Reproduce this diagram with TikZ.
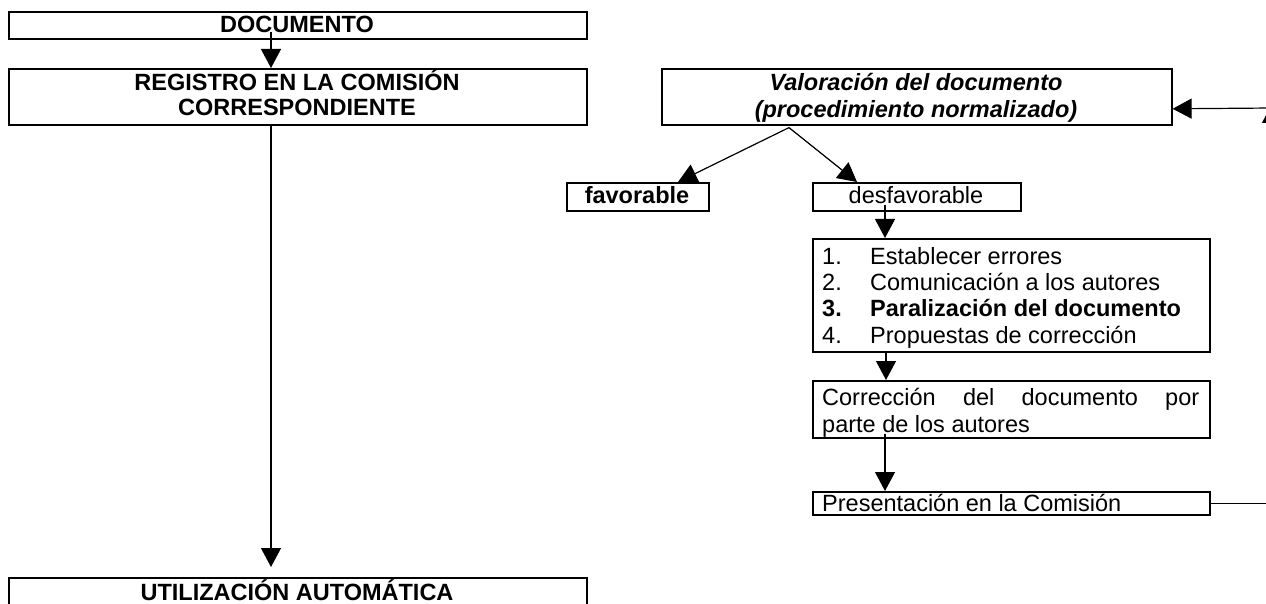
\documentclass[tikz,border=0pt]{standalone}
\usepackage{fontspec}
\setmainfont{Liberation Sans}
\usetikzlibrary{arrows.meta}
\newcommand\fsz{\fontsize{23.5pt}{26pt}\selectfont}
\begin{document}
\begin{tikzpicture}[x=1pt,y=-1pt,
  box/.style={draw,line width=1.6pt,inner sep=0pt,anchor=north west},
  txt/.style={inner sep=0pt,anchor=base,font=\fsz},
  txtl/.style={inner sep=0pt,anchor=base west,font=\fsz},
  arr/.style={line width=1.2pt,-{Triangle[length=19pt,width=20pt]}}]
\useasboundingbox (0,0) rectangle (1266,604);
\clip (0,0) rectangle (1266,604);
% boxes
\node[box,minimum width=578pt,minimum height=27pt] (doc) at (8,11) {};
\node[box,minimum width=578pt,minimum height=56pt] (reg) at (8,68) {};
\node[box,minimum width=578pt,minimum height=50pt] (util) at (8,577) {};
\node[box,minimum width=510pt,minimum height=56pt] (val) at (661,68) {};
\node[box,minimum width=142pt,minimum height=28pt] (fav) at (566,182) {};
\node[box,minimum width=208pt,minimum height=28pt] (desf) at (812,182) {};
\node[box,minimum width=397pt,minimum height=113pt] (list) at (812,238) {};
\node[box,minimum width=397pt,minimum height=57pt] (corr) at (812,380) {};
\node[box,minimum width=397pt,minimum height=23pt] (pres) at (812,491) {};
% texts
\node[txt] (tdoc) at (297,33) {\bfseries DOCUMENTO};
\node[txt] (treg1) at (297,91) {\bfseries REGISTRO EN LA COMISIÓN};
\node[txt] (treg2) at (297,116) {\bfseries CORRESPONDIENTE};
\node[txt] (tutil) at (297,600) {\bfseries UTILIZACIÓN AUTOMÁTICA};
\node[txt] (tval1) at (916,91) {\bfseries\itshape Valoración del documento};
\node[txt] (tval2) at (916,118) {\bfseries\itshape (procedimiento normalizado)};
\node[txt] (tfav) at (637,204) {\bfseries favorable};
\node[txt] (tdesf) at (916,204) {desfavorable};
\node[txtl] (n1) at (822,264) {1.};
\node[txtl] (i1) at (870,264) {Establecer errores};
\node[txtl] (n2) at (822,290.3) {2.};
\node[txtl] (i2) at (870,290.3) {Comunicación a los autores};
\node[txtl] (n3) at (822,316.6) {\bfseries 3.};
\node[txtl] (i3) at (870,316.6) {\bfseries Paralización del documento};
\node[txtl] (n4) at (822,343) {4.};
\node[txtl] (i4) at (870,343) {Propuestas de corrección};
\node[txtl] (c1) at (822,405) {\makebox[377pt][s]{Corrección del documento por}};
\node[txtl] (c2) at (822,432) {parte de los autores};
\node[txtl] (tpres) at (822,511.5) {Presentación en la Comisión};
% connectors
\coordinate (apex) at ([xshift=128pt,yshift=-2pt]val.south west);
\coordinate (rc) at (1272,108);
\draw[arr] ([xshift=263pt,yshift=8pt]doc.south west) -- ([xshift=263pt]reg.north west);
\draw[arr] ([xshift=263pt]reg.south west) -- ([xshift=263pt,yshift=10pt]util.north west);
\draw[arr] (apex) -- ([xshift=112pt]fav.north west);
\draw[arr] (apex) -- ([xshift=45pt]desf.north west);
\draw[arr] ([xshift=73pt,yshift=7pt]desf.south west) -- ([xshift=73pt]list.north west);
\draw[arr] ([xshift=74pt]list.south west) -- ([xshift=74pt]corr.north west);
\draw[arr] ([xshift=73pt,yshift=5pt]corr.south west) -- ([xshift=73pt]pres.north west);
\draw[arr] (pres.east) -| ([yshift=4pt]rc);
\draw[arr] (rc) -- ([yshift=-12pt]val.east);
\end{tikzpicture}
\end{document}
